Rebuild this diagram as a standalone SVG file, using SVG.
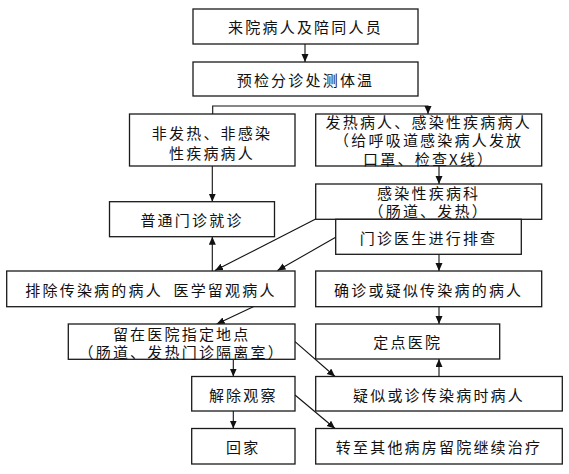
<svg xmlns="http://www.w3.org/2000/svg" width="569" height="474" viewBox="0 0 569 474">
<style>
.box{fill:#fff;stroke:#1a1a1a;stroke-width:1.3}
.t{font-family:"Noto Sans CJK SC","Noto Sans CJK TC",sans-serif;font-size:15px;letter-spacing:2.2px;fill:#111;text-anchor:middle;dominant-baseline:central}
.c{fill:none;stroke:#111;stroke-width:1.1}
</style>
<defs>
<marker id="ah" markerUnits="userSpaceOnUse" markerWidth="9" markerHeight="8" refX="8" refY="3.5" orient="auto">
<path d="M0,0 L8,3.5 L0,7 z" fill="#111"/>
</marker>
</defs>
<rect width="569" height="474" fill="#fff"/>
<g id="connectors">
<line class="c" x1="305" y1="44" x2="305" y2="62" marker-end="url(#ah)"/>
<polyline class="c" points="212.7,114 212.7,106 428,106 428,114" marker-end="url(#ah)"/>
<line class="c" x1="212.3" y1="166" x2="212.3" y2="201.7" marker-end="url(#ah)"/>
<line class="c" x1="439" y1="166" x2="439" y2="184" marker-end="url(#ah)"/>
<line class="c" x1="212.3" y1="271" x2="212.3" y2="236.7" marker-end="url(#ah)"/>
<line class="c" x1="315.7" y1="219" x2="215" y2="270.5" marker-end="url(#ah)"/>
<line class="c" x1="335.7" y1="237.3" x2="277.5" y2="270.5" marker-end="url(#ah)"/>
<line class="c" x1="439" y1="254.3" x2="439" y2="271" marker-end="url(#ah)"/>
<line class="c" x1="253.3" y1="306.7" x2="216.7" y2="324" marker-end="url(#ah)"/>
<line class="c" x1="439" y1="306.7" x2="439" y2="324" marker-end="url(#ah)"/>
<line class="c" x1="233.3" y1="359.3" x2="233.3" y2="376.5" marker-end="url(#ah)"/>
<line class="c" x1="439" y1="376.5" x2="439" y2="359" marker-end="url(#ah)"/>
<line class="c" x1="295" y1="341.7" x2="335" y2="376.5" marker-end="url(#ah)"/>
<line class="c" x1="233.3" y1="411" x2="233.3" y2="428.5" marker-end="url(#ah)"/>
<line class="c" x1="295" y1="395" x2="335" y2="428.5" marker-end="url(#ah)"/>
</g>
<g id="n1"><rect class="box" x="193" y="9" width="225" height="35"/><text class="t" x="305.5" y="26.5">来院病人及陪同人员</text></g>
<g id="n2"><rect class="box" x="193" y="62" width="225" height="34"/><text class="t" x="305.5" y="79">预检分诊处测体温</text></g>
<g id="n3"><rect class="box" x="129.5" y="114" width="165.5" height="52"/><text class="t" x="212" y="132">非发热、非感染</text><text class="t" x="212" y="152">性疾病病人</text></g>
<g id="n4"><rect class="box" x="315.7" y="114" width="226" height="52"/><text class="t" x="428.7" y="121">发热病人、感染性疾病病人</text><text class="t" x="428.7" y="139.5">（给呼吸道感染病人发放</text><text class="t" x="428.7" y="158">口罩、检查X线）</text></g>
<g id="n5"><rect class="box" x="109.5" y="201.7" width="165" height="35"/><text class="t" x="192" y="219">普通门诊就诊</text></g>
<g id="n6"><rect class="box" x="315.7" y="184" width="226" height="35.3"/><text class="t" x="428.7" y="192.3">感染性疾病科</text><text class="t" x="428.7" y="210.5">（肠道、发热）</text></g>
<g id="n7"><rect class="box" x="335.7" y="219.3" width="185.6" height="35"/><text class="t" x="428.5" y="237">门诊医生进行排查</text></g>
<g id="n8"><rect class="box" x="6.7" y="271" width="288.3" height="35.7"/><text class="t" x="151" y="289" word-spacing="5">排除传染病的病人 医学留观病人</text></g>
<g id="n9"><rect class="box" x="315.7" y="271" width="226" height="35.7"/><text class="t" x="428.7" y="289">确诊或疑似传染病的病人</text></g>
<g id="n10"><rect class="box" x="68.3" y="324" width="226.7" height="35.3"/><text class="t" x="181.7" y="333">留在医院指定地点</text><text class="t" x="181.7" y="351">（肠道、发热门诊隔离室）</text></g>
<g id="n11"><rect class="box" x="315.7" y="324" width="184" height="35"/><text class="t" x="407.7" y="341.5">定点医院</text></g>
<g id="n12"><rect class="box" x="191.7" y="376.5" width="103.3" height="34.5"/><text class="t" x="243.3" y="394">解除观察</text></g>
<g id="n13"><rect class="box" x="315.7" y="376.5" width="246.6" height="34.5"/><text class="t" x="439" y="394">疑似或诊传染病时病人</text></g>
<g id="n14"><rect class="box" x="191.7" y="428.5" width="103.3" height="35.5"/><text class="t" x="243.3" y="446">回家</text></g>
<g id="n15"><rect class="box" x="315.7" y="428.5" width="246.6" height="35.5"/><text class="t" x="439" y="446">转至其他病房留院继续治疗</text></g>
</svg>
